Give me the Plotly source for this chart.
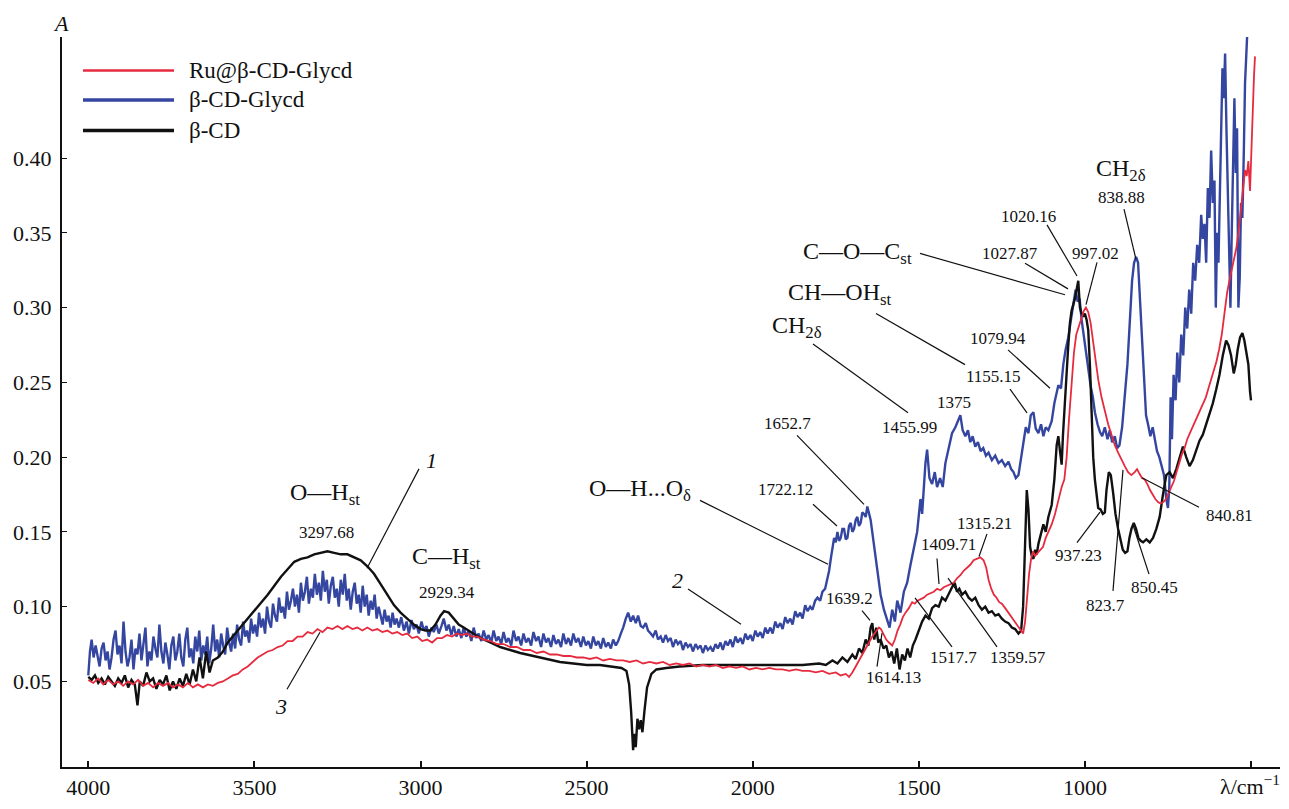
import plotly.graph_objects as go

# ---------------- data (wavenumber cm^-1, absorbance) ----------------
series_names = ["Ru@β-CD-Glycd", "β-CD-Glycd", "β-CD"]

blue_points = [
    (4000, 0.054), (3995, 0.070), (3990, 0.078), (3984, 0.066), (3978, 0.074), (3972, 0.068),
    (3966, 0.060), (3960, 0.072), (3954, 0.076), (3948, 0.064), (3942, 0.070), (3936, 0.058),
    (3930, 0.066), (3924, 0.078), (3918, 0.084), (3912, 0.068), (3906, 0.074), (3900, 0.062),
    (3894, 0.090), (3888, 0.070), (3882, 0.060), (3876, 0.066), (3870, 0.078), (3864, 0.058),
    (3858, 0.072), (3852, 0.068), (3846, 0.082), (3840, 0.064), (3834, 0.074), (3828, 0.086),
    (3822, 0.060), (3816, 0.070), (3810, 0.064), (3804, 0.080), (3798, 0.072), (3792, 0.066),
    (3786, 0.088), (3780, 0.070), (3774, 0.062), (3768, 0.076), (3762, 0.068), (3756, 0.058),
    (3750, 0.074), (3744, 0.080), (3738, 0.064), (3732, 0.070), (3726, 0.082), (3720, 0.066),
    (3714, 0.060), (3708, 0.078), (3702, 0.086), (3696, 0.066), (3690, 0.072), (3684, 0.062),
    (3678, 0.080), (3672, 0.070), (3666, 0.084), (3660, 0.064), (3654, 0.074), (3648, 0.068),
    (3642, 0.080), (3636, 0.062), (3630, 0.072), (3624, 0.088), (3618, 0.070), (3612, 0.078),
    (3606, 0.066), (3600, 0.082), (3594, 0.074), (3588, 0.068), (3582, 0.086), (3576, 0.076),
    (3570, 0.070), (3564, 0.082), (3558, 0.072), (3552, 0.088), (3546, 0.078), (3540, 0.074),
    (3534, 0.090), (3528, 0.080), (3522, 0.084), (3516, 0.076), (3510, 0.092), (3504, 0.082),
    (3498, 0.088), (3492, 0.080), (3486, 0.096), (3480, 0.086), (3474, 0.092), (3468, 0.082),
    (3462, 0.100), (3456, 0.090), (3450, 0.086), (3444, 0.102), (3438, 0.094), (3432, 0.090),
    (3426, 0.106), (3420, 0.096), (3414, 0.100), (3408, 0.092), (3402, 0.110), (3396, 0.098),
    (3390, 0.104), (3384, 0.112), (3378, 0.100), (3372, 0.108), (3366, 0.096), (3360, 0.116),
    (3354, 0.104), (3348, 0.110), (3342, 0.120), (3336, 0.102), (3330, 0.112), (3324, 0.106),
    (3318, 0.122), (3312, 0.108), (3306, 0.116), (3300, 0.104), (3294, 0.124), (3288, 0.110),
    (3282, 0.118), (3276, 0.102), (3270, 0.114), (3264, 0.120), (3258, 0.106), (3252, 0.112),
    (3246, 0.100), (3240, 0.118), (3234, 0.108), (3228, 0.122), (3222, 0.104), (3216, 0.112),
    (3210, 0.098), (3204, 0.110), (3198, 0.116), (3192, 0.102), (3186, 0.108), (3180, 0.096),
    (3174, 0.114), (3168, 0.100), (3162, 0.108), (3156, 0.094), (3150, 0.104), (3144, 0.098),
    (3138, 0.108), (3132, 0.092), (3126, 0.100), (3120, 0.094), (3114, 0.088), (3108, 0.098),
    (3102, 0.090), (3096, 0.094), (3090, 0.086), (3084, 0.096), (3078, 0.088), (3072, 0.092),
    (3065, 0.086), (3058, 0.093), (3050, 0.084), (3042, 0.090), (3035, 0.082), (3027, 0.091),
    (3020, 0.085), (3012, 0.088), (3005, 0.082), (2997, 0.090), (2990, 0.084), (2982, 0.087),
    (2975, 0.080), (2967, 0.086), (2960, 0.083), (2952, 0.088), (2945, 0.082), (2937, 0.087),
    (2930, 0.092), (2922, 0.084), (2915, 0.088), (2907, 0.081), (2900, 0.087), (2892, 0.080),
    (2885, 0.085), (2877, 0.079), (2870, 0.086), (2862, 0.080), (2855, 0.084), (2847, 0.077),
    (2840, 0.086), (2832, 0.079), (2825, 0.082), (2817, 0.077), (2810, 0.084), (2802, 0.078),
    (2795, 0.081), (2787, 0.076), (2780, 0.084), (2772, 0.077), (2765, 0.080), (2757, 0.075),
    (2750, 0.083), (2742, 0.076), (2735, 0.079), (2727, 0.074), (2720, 0.084), (2712, 0.077),
    (2705, 0.080), (2697, 0.074), (2690, 0.082), (2682, 0.076), (2675, 0.079), (2667, 0.074),
    (2660, 0.083), (2652, 0.077), (2645, 0.080), (2637, 0.073), (2630, 0.082), (2622, 0.076),
    (2615, 0.079), (2607, 0.073), (2600, 0.081), (2592, 0.075), (2585, 0.078), (2577, 0.073),
    (2570, 0.082), (2562, 0.075), (2555, 0.079), (2547, 0.074), (2540, 0.082), (2532, 0.076),
    (2525, 0.079), (2517, 0.073), (2510, 0.080), (2502, 0.074), (2495, 0.077), (2487, 0.072),
    (2480, 0.080), (2472, 0.074), (2465, 0.077), (2457, 0.072), (2450, 0.079), (2442, 0.073),
    (2435, 0.076), (2427, 0.072), (2420, 0.078), (2412, 0.074), (2405, 0.077), (2397, 0.082),
    (2390, 0.086), (2382, 0.092), (2375, 0.096), (2367, 0.090), (2360, 0.094), (2352, 0.089),
    (2345, 0.094), (2337, 0.087), (2330, 0.086), (2322, 0.089), (2315, 0.084), (2307, 0.082),
    (2300, 0.080), (2292, 0.084), (2285, 0.078), (2277, 0.080), (2270, 0.076), (2262, 0.081),
    (2255, 0.077), (2247, 0.079), (2240, 0.073), (2232, 0.078), (2225, 0.075), (2217, 0.077),
    (2210, 0.071), (2202, 0.076), (2195, 0.073), (2187, 0.075), (2180, 0.070), (2172, 0.075),
    (2165, 0.072), (2157, 0.074), (2150, 0.069), (2142, 0.074), (2135, 0.071), (2127, 0.073),
    (2120, 0.070), (2112, 0.075), (2105, 0.072), (2097, 0.076), (2090, 0.071), (2082, 0.077),
    (2075, 0.074), (2067, 0.078), (2060, 0.073), (2052, 0.080), (2045, 0.076), (2037, 0.079),
    (2030, 0.075), (2022, 0.082), (2015, 0.078), (2007, 0.081), (2000, 0.077), (1992, 0.084),
    (1985, 0.080), (1977, 0.083), (1970, 0.079), (1962, 0.086), (1955, 0.082), (1947, 0.086),
    (1940, 0.082), (1932, 0.090), (1925, 0.086), (1917, 0.089), (1910, 0.085), (1902, 0.093),
    (1895, 0.089), (1887, 0.092), (1880, 0.088), (1872, 0.097), (1865, 0.093), (1857, 0.096),
    (1850, 0.092), (1842, 0.101), (1835, 0.097), (1827, 0.100), (1820, 0.098), (1812, 0.104),
    (1805, 0.106), (1797, 0.104), (1790, 0.110), (1782, 0.112), (1775, 0.118), (1770, 0.124),
    (1765, 0.132), (1760, 0.140), (1755, 0.146), (1750, 0.143), (1745, 0.150), (1740, 0.144),
    (1735, 0.146), (1730, 0.152), (1725, 0.152), (1720, 0.145), (1715, 0.146), (1710, 0.154),
    (1705, 0.156), (1700, 0.150), (1695, 0.152), (1690, 0.158), (1685, 0.160), (1680, 0.154),
    (1675, 0.156), (1670, 0.163), (1665, 0.162), (1660, 0.160), (1655, 0.167),
    (1645, 0.158), (1635, 0.140), (1625, 0.122), (1615, 0.108), (1605, 0.098), (1595, 0.090),
    (1588, 0.086), (1580, 0.098), (1572, 0.090), (1565, 0.104), (1555, 0.096), (1545, 0.110),
    (1535, 0.116), (1525, 0.128), (1515, 0.140), (1505, 0.150), (1495, 0.172), (1490, 0.162),
    (1480, 0.196), (1475, 0.205), (1468, 0.186), (1460, 0.182), (1452, 0.190), (1445, 0.180),
    (1436, 0.186), (1428, 0.180), (1420, 0.196), (1410, 0.206), (1400, 0.216), (1390, 0.220),
    (1380, 0.226), (1375, 0.228), (1368, 0.218), (1360, 0.214), (1352, 0.218), (1345, 0.210),
    (1338, 0.214), (1330, 0.207), (1322, 0.210), (1314, 0.204), (1306, 0.206), (1298, 0.201),
    (1290, 0.203), (1280, 0.198), (1270, 0.201), (1260, 0.196), (1250, 0.198), (1240, 0.194),
    (1230, 0.197), (1222, 0.192), (1215, 0.190), (1208, 0.186), (1200, 0.188), (1192, 0.200),
    (1185, 0.212), (1178, 0.220), (1170, 0.216), (1163, 0.228), (1155, 0.230), (1148, 0.219),
    (1140, 0.216), (1132, 0.222), (1125, 0.214), (1118, 0.220), (1110, 0.218), (1100, 0.224),
    (1092, 0.236), (1085, 0.244), (1080, 0.248), (1072, 0.246), (1065, 0.262), (1058, 0.272),
    (1050, 0.280), (1042, 0.292), (1035, 0.302), (1028, 0.312), (1022, 0.304), (1016, 0.306),
    (1010, 0.292), (1003, 0.280), (996, 0.270), (990, 0.258), (983, 0.248), (976, 0.240),
    (970, 0.230), (962, 0.222), (955, 0.217), (948, 0.214), (940, 0.220), (932, 0.212),
    (925, 0.218), (918, 0.210), (910, 0.214), (903, 0.206), (896, 0.208), (888, 0.220),
    (880, 0.240), (872, 0.262), (865, 0.290), (858, 0.318), (852, 0.330), (846, 0.334),
    (840, 0.330), (834, 0.305), (828, 0.272), (822, 0.246), (816, 0.228), (810, 0.222),
    (803, 0.214), (796, 0.220), (790, 0.212), (783, 0.204), (776, 0.200), (769, 0.194),
    (762, 0.188), (755, 0.172), (750, 0.166), (746, 0.180), (742, 0.240), (738, 0.212),
    (733, 0.255), (727, 0.238), (722, 0.270), (716, 0.250), (710, 0.282), (704, 0.268),
    (698, 0.300), (692, 0.286), (686, 0.312), (680, 0.296), (674, 0.330), (668, 0.318),
    (662, 0.342), (656, 0.330), (650, 0.362), (645, 0.346), (640, 0.356), (635, 0.330),
    (630, 0.380), (625, 0.360), (620, 0.405), (615, 0.370), (610, 0.385), (606, 0.300),
    (602, 0.350), (598, 0.330), (594, 0.370), (590, 0.410), (586, 0.460), (582, 0.440),
    (578, 0.470), (574, 0.420), (570, 0.380), (566, 0.330), (562, 0.300), (558, 0.350),
    (554, 0.405), (550, 0.440), (546, 0.390), (542, 0.420), (538, 0.300), (534, 0.320),
    (530, 0.370), (526, 0.360), (522, 0.400), (518, 0.450), (514, 0.470), (510, 0.490),
]

black_points = [
    (4000, 0.053), (3990, 0.051), (3980, 0.054), (3970, 0.049), (3960, 0.052), (3950, 0.048),
    (3940, 0.053), (3930, 0.050), (3920, 0.047), (3910, 0.052), (3900, 0.049), (3890, 0.054),
    (3880, 0.046), (3870, 0.051), (3860, 0.048), (3852, 0.034), (3845, 0.050), (3835, 0.047),
    (3825, 0.056), (3815, 0.050), (3805, 0.052), (3795, 0.045), (3785, 0.051), (3775, 0.048),
    (3765, 0.054), (3755, 0.044), (3745, 0.050), (3735, 0.045), (3725, 0.052), (3715, 0.047),
    (3705, 0.055), (3695, 0.048), (3685, 0.058), (3675, 0.050), (3665, 0.066), (3655, 0.052),
    (3645, 0.070), (3635, 0.056), (3625, 0.064), (3610, 0.066), (3595, 0.070), (3580, 0.076),
    (3565, 0.080), (3550, 0.084), (3535, 0.088), (3520, 0.092), (3500, 0.097), (3480, 0.102),
    (3460, 0.108), (3440, 0.114), (3420, 0.120), (3400, 0.125), (3380, 0.130), (3360, 0.132),
    (3340, 0.133), (3320, 0.135), (3300, 0.136), (3280, 0.137), (3260, 0.136), (3240, 0.135),
    (3220, 0.135), (3200, 0.133), (3180, 0.131), (3160, 0.127), (3140, 0.122), (3120, 0.115),
    (3100, 0.108), (3080, 0.101), (3060, 0.096), (3040, 0.092), (3020, 0.088), (3000, 0.085),
    (2985, 0.084), (2970, 0.084), (2955, 0.088), (2940, 0.094), (2929, 0.097), (2915, 0.096),
    (2900, 0.092), (2885, 0.088), (2870, 0.086), (2850, 0.083), (2820, 0.079), (2790, 0.076),
    (2760, 0.073), (2730, 0.071), (2700, 0.069), (2660, 0.067), (2620, 0.065), (2580, 0.063),
    (2540, 0.062), (2500, 0.061), (2460, 0.061), (2420, 0.060), (2395, 0.059), (2380, 0.057),
    (2372, 0.048), (2366, 0.030), (2360, 0.004), (2356, 0.015), (2352, 0.006), (2347, 0.025),
    (2342, 0.018), (2337, 0.024), (2332, 0.016), (2326, 0.030), (2318, 0.046), (2305, 0.055),
    (2290, 0.058), (2260, 0.059), (2220, 0.060), (2150, 0.061), (2100, 0.061), (2050, 0.061),
    (2000, 0.061), (1950, 0.061), (1900, 0.061), (1850, 0.061), (1800, 0.062), (1780, 0.061),
    (1760, 0.064), (1745, 0.062), (1730, 0.066), (1715, 0.063), (1700, 0.068), (1690, 0.065),
    (1680, 0.072), (1670, 0.069), (1660, 0.078), (1652, 0.074), (1645, 0.086), (1640, 0.089),
    (1634, 0.078), (1628, 0.086), (1622, 0.076), (1615, 0.078), (1606, 0.072), (1598, 0.074),
    (1590, 0.066), (1582, 0.070), (1574, 0.062), (1566, 0.072), (1558, 0.058), (1550, 0.068),
    (1542, 0.064), (1534, 0.072), (1526, 0.066), (1518, 0.074), (1510, 0.078), (1500, 0.084),
    (1490, 0.090), (1480, 0.094), (1470, 0.092), (1460, 0.099), (1450, 0.101), (1440, 0.100),
    (1430, 0.106), (1420, 0.104), (1410, 0.109), (1400, 0.113), (1392, 0.116), (1385, 0.110),
    (1378, 0.112), (1370, 0.108), (1360, 0.110), (1350, 0.106), (1340, 0.104), (1330, 0.106),
    (1320, 0.101), (1310, 0.098), (1300, 0.100), (1290, 0.096), (1280, 0.097), (1270, 0.094),
    (1260, 0.095), (1250, 0.092), (1240, 0.090), (1230, 0.089), (1220, 0.086), (1210, 0.085),
    (1200, 0.082), (1192, 0.084), (1186, 0.100), (1180, 0.150), (1175, 0.178), (1170, 0.165),
    (1165, 0.140), (1160, 0.134), (1155, 0.132), (1150, 0.138), (1145, 0.135), (1140, 0.142),
    (1132, 0.148), (1125, 0.155), (1118, 0.150), (1110, 0.160), (1100, 0.168), (1092, 0.185),
    (1085, 0.208), (1080, 0.214), (1075, 0.204), (1070, 0.195), (1066, 0.215), (1060, 0.240),
    (1055, 0.255), (1050, 0.275), (1045, 0.290), (1040, 0.298), (1035, 0.302), (1030, 0.306),
    (1025, 0.312), (1020, 0.318), (1015, 0.300), (1010, 0.296), (1005, 0.294), (1000, 0.296),
    (995, 0.292), (990, 0.285), (985, 0.262), (980, 0.230), (975, 0.200), (970, 0.185),
    (965, 0.175), (960, 0.166), (953, 0.165), (946, 0.162), (940, 0.163), (935, 0.178),
    (928, 0.190), (922, 0.188), (915, 0.176), (908, 0.162), (900, 0.152), (893, 0.144),
    (886, 0.138), (879, 0.136), (872, 0.137), (866, 0.146), (860, 0.152), (853, 0.156),
    (846, 0.152), (839, 0.146), (832, 0.144), (825, 0.143), (815, 0.145), (805, 0.143),
    (795, 0.146), (785, 0.152), (775, 0.160), (765, 0.175), (755, 0.188), (745, 0.190),
    (735, 0.186), (725, 0.192), (715, 0.200), (705, 0.207), (695, 0.200), (685, 0.194),
    (675, 0.198), (665, 0.205), (655, 0.211), (645, 0.215), (635, 0.222), (625, 0.229),
    (615, 0.236), (605, 0.245), (595, 0.255), (585, 0.268), (575, 0.278), (568, 0.275),
    (560, 0.268), (552, 0.256), (546, 0.262), (540, 0.272), (533, 0.280), (526, 0.283),
    (520, 0.278), (514, 0.270), (508, 0.262), (503, 0.244), (500, 0.238),
]

red_points = [
    (4000, 0.051), (3985, 0.049), (3970, 0.052), (3955, 0.048), (3940, 0.051), (3925, 0.048),
    (3910, 0.050), (3895, 0.047), (3880, 0.050), (3865, 0.048), (3850, 0.051), (3835, 0.047),
    (3820, 0.049), (3805, 0.046), (3790, 0.049), (3775, 0.047), (3760, 0.049), (3745, 0.046),
    (3730, 0.048), (3715, 0.046), (3700, 0.049), (3685, 0.046), (3670, 0.048), (3655, 0.046),
    (3640, 0.048), (3625, 0.047), (3610, 0.049), (3595, 0.050), (3580, 0.052), (3565, 0.054),
    (3550, 0.055), (3535, 0.058), (3520, 0.060), (3505, 0.063), (3490, 0.066), (3475, 0.068),
    (3460, 0.070), (3445, 0.071), (3430, 0.073), (3415, 0.074), (3400, 0.077), (3385, 0.077),
    (3370, 0.080), (3355, 0.080), (3340, 0.083), (3325, 0.082), (3310, 0.085), (3295, 0.083),
    (3280, 0.086), (3265, 0.085), (3250, 0.087), (3235, 0.085), (3220, 0.087), (3205, 0.085),
    (3190, 0.086), (3175, 0.084), (3160, 0.086), (3145, 0.084), (3130, 0.085), (3115, 0.083),
    (3100, 0.084), (3085, 0.082), (3070, 0.083), (3055, 0.081), (3040, 0.082), (3025, 0.079),
    (3010, 0.080), (2995, 0.077), (2980, 0.078), (2965, 0.076), (2950, 0.079), (2935, 0.079),
    (2920, 0.081), (2905, 0.080), (2890, 0.082), (2875, 0.081), (2860, 0.082), (2845, 0.080),
    (2830, 0.080), (2810, 0.078), (2790, 0.077), (2770, 0.075), (2750, 0.075), (2730, 0.073),
    (2710, 0.073), (2690, 0.071), (2670, 0.071), (2650, 0.069), (2630, 0.070), (2610, 0.068),
    (2590, 0.068), (2570, 0.067), (2550, 0.067), (2530, 0.066), (2510, 0.066), (2490, 0.065),
    (2470, 0.066), (2450, 0.064), (2430, 0.065), (2410, 0.064), (2390, 0.064), (2370, 0.063),
    (2350, 0.064), (2330, 0.062), (2310, 0.063), (2290, 0.062), (2270, 0.063), (2250, 0.061),
    (2230, 0.062), (2210, 0.061), (2190, 0.062), (2170, 0.060), (2150, 0.061), (2130, 0.060),
    (2110, 0.061), (2090, 0.059), (2070, 0.060), (2050, 0.059), (2030, 0.060), (2010, 0.058),
    (1990, 0.059), (1970, 0.058), (1950, 0.059), (1930, 0.058), (1910, 0.058), (1890, 0.057),
    (1870, 0.058), (1850, 0.057), (1830, 0.057), (1810, 0.056), (1790, 0.057), (1770, 0.055),
    (1750, 0.056), (1735, 0.054), (1720, 0.055), (1710, 0.053), (1700, 0.056), (1690, 0.060),
    (1680, 0.064), (1670, 0.069), (1660, 0.072), (1650, 0.076), (1640, 0.080), (1630, 0.083),
    (1620, 0.086), (1614, 0.085), (1606, 0.081), (1598, 0.078), (1590, 0.076), (1580, 0.074),
    (1572, 0.078), (1564, 0.084), (1556, 0.088), (1548, 0.093), (1540, 0.096), (1530, 0.099),
    (1520, 0.103), (1512, 0.102), (1504, 0.104), (1495, 0.105), (1485, 0.106), (1475, 0.108),
    (1465, 0.109), (1455, 0.110), (1445, 0.112), (1435, 0.111), (1425, 0.113), (1415, 0.114),
    (1405, 0.115), (1395, 0.116), (1385, 0.119), (1375, 0.121), (1365, 0.124), (1355, 0.126),
    (1345, 0.128), (1335, 0.131), (1325, 0.132), (1315, 0.133), (1305, 0.131), (1297, 0.126),
    (1290, 0.118), (1282, 0.112), (1274, 0.108), (1266, 0.106), (1258, 0.103), (1250, 0.102),
    (1240, 0.099), (1230, 0.096), (1220, 0.093), (1210, 0.090), (1200, 0.087), (1192, 0.084),
    (1186, 0.082), (1180, 0.090), (1174, 0.108), (1168, 0.122), (1162, 0.132), (1156, 0.137),
    (1150, 0.134), (1142, 0.136), (1134, 0.138), (1126, 0.140), (1118, 0.146), (1110, 0.150),
    (1100, 0.155), (1090, 0.162), (1080, 0.172), (1070, 0.180), (1062, 0.185), (1055, 0.200),
    (1048, 0.225), (1040, 0.250), (1033, 0.270), (1026, 0.282), (1018, 0.288), (1010, 0.294),
    (1003, 0.298), (997, 0.300), (990, 0.297), (983, 0.290), (976, 0.278), (968, 0.265),
    (960, 0.252), (950, 0.240), (940, 0.230), (930, 0.222), (920, 0.215), (910, 0.208),
    (900, 0.203), (890, 0.198), (880, 0.194), (870, 0.190), (860, 0.188), (850, 0.190),
    (843, 0.192), (836, 0.189), (828, 0.186), (820, 0.185), (812, 0.182), (804, 0.178),
    (796, 0.175), (788, 0.172), (780, 0.170), (772, 0.169), (764, 0.170), (756, 0.172),
    (748, 0.176), (740, 0.180), (732, 0.184), (724, 0.190), (716, 0.196), (708, 0.202),
    (700, 0.206), (692, 0.212), (684, 0.216), (676, 0.220), (668, 0.224), (660, 0.228),
    (652, 0.232), (644, 0.236), (636, 0.240), (628, 0.246), (620, 0.252), (612, 0.258),
    (604, 0.264), (596, 0.272), (588, 0.282), (580, 0.296), (572, 0.310), (565, 0.318),
    (558, 0.326), (551, 0.334), (544, 0.340), (537, 0.352), (530, 0.366), (524, 0.380),
    (518, 0.392), (513, 0.388), (508, 0.398), (503, 0.378), (499, 0.408), (495, 0.430),
    (491, 0.455), (488, 0.468),
]

x_tick_values = [4000, 3500, 3000, 2500, 2000, 1500, 1000, 500]
x_tick_labels = ["4000", "3500", "3000", "2500", "2000", "1500", "1000", ""]
y_tick_values = [0.05, 0.10, 0.15, 0.20, 0.25, 0.30, 0.35, 0.40]
y_tick_labels = ["0.05", "0.10", "0.15", "0.20", "0.25", "0.30", "0.35", "0.40"]

# ---------------- layout helpers ----------------
W, H = 1289, 809
L, R, T, B = 62, 1280, 37, 779


def P(px, py):
    """Convert a reference pixel location to data coordinates."""
    return 4000 - (px - 88.3) * 3.0102, 0.05 + (692 - py) * 0.000658


def PP(px, py):
    """Convert a reference pixel location to paper coordinates."""
    return (px - L) / (R - L), (B - py) / (B - T)


XR = [P(L, 0)[0], P(R, 0)[0]]
YR = [P(0, B)[1], P(0, T)[1]]

RED = "#e62b3f"
BLUE = "#3446a0"
BLACK = "#111111"
FONT = "Liberation Serif, Times New Roman, serif"


def split(points):
    return [p[0] for p in points], [p[1] for p in points]


fig = go.Figure()
for pts, color, width, name in [
    (blue_points, BLUE, 2.4, series_names[1]),
    (black_points, BLACK, 2.4, series_names[2]),
    (red_points, RED, 1.8, series_names[0]),
]:
    xs, ys = split(pts)
    fig.add_trace(go.Scatter(x=xs, y=ys, mode="lines", name=name,
                             line=dict(color=color, width=width), showlegend=False))

annotations = []
shapes = []

# manual legend
for (name, color, width, py) in [
    (series_names[0], RED, 2.5, 71),
    (series_names[1], BLUE, 3.5, 101),
    (series_names[2], BLACK, 3.5, 132),
]:
    x0, y0 = PP(83, py)
    x1, _ = PP(174, py)
    shapes.append(dict(type="line", xref="paper", yref="paper", x0=x0, x1=x1, y0=y0, y1=y0,
                       line=dict(color=color, width=width)))
    tx, ty = PP(187, py)
    annotations.append(dict(x=tx, y=ty, xref="paper", yref="paper", text=name, showarrow=False,
                            xanchor="left", yanchor="middle",
                            font=dict(family=FONT, size=23, color="#111")))

# text labels: (text, px, py, size)
labels = [
    ("<i>1</i>", 431, 467, 22), ("<i>3</i>", 281, 718, 22), ("<i>2</i>", 677, 589, 22),
    ("O—H<sub>st</sub>", 325, 502, 24), ("3297.68", 326, 541, 17),
    ("C—H<sub>st</sub>", 446, 567, 24), ("2929.34", 447, 602, 17),
    ("O—H...O<sub>δ</sub>", 640, 497, 24), ("1722.12", 785, 497, 17),
    ("1652.7", 787, 430, 17), ("CH<sub>2δ</sub>", 797, 332, 24),
    ("1455.99", 909, 434, 17), ("1375", 954, 409, 17),
    ("CH—OH<sub>st</sub>", 840, 298, 24), ("1155.15", 993, 382, 17),
    ("1079.94", 998, 343, 17), ("C—O—C<sub>st</sub>", 857, 257, 24),
    ("1027.87", 1010, 257, 17), ("1020.16", 1028, 219, 17), ("997.02", 1095, 257, 17),
    ("CH<sub>2δ</sub>", 1121, 172, 24), ("838.88", 1121, 200, 17),
    ("1639.2", 849, 608, 17), ("1614.13", 893, 688, 17), ("1409.71", 948, 553, 17),
    ("1315.21", 984, 532, 17), ("1517.7", 953, 668, 17), ("1359.57", 1018, 668, 17),
    ("937.23", 1078, 564, 17), ("823.7", 1105, 615, 17), ("850.45", 1154, 597, 17),
    ("840.81", 1229, 523, 17),
]
for text, px, py, size in labels:
    x, y = P(px, py)
    annotations.append(dict(x=x, y=y, xref="x", yref="y", text=text, showarrow=False,
                            xanchor="center", yanchor="middle",
                            font=dict(family=FONT, size=size, color="#111")))

# leader lines (pixel endpoints)
leaders = [
    (419, 476, 367, 577), (287, 700, 320, 642), (688, 598, 741, 634),
    (700, 508, 828, 573), (813, 512, 837, 534), (797, 442, 864, 512),
    (813, 349, 908, 419), (876, 318, 965, 370), (1010, 395, 1027, 419),
    (1008, 355, 1050, 394), (920, 257, 1065, 299), (1025, 267, 1068, 293),
    (1047, 228, 1077, 280), (1097, 266, 1086, 309), (1124, 212, 1136, 263),
    (862, 620, 870, 630), (877, 677, 882, 643), (937, 567, 939, 593),
    (987, 542, 979, 565), (952, 657, 915, 607), (997, 657, 948, 587),
    (1077, 551, 1100, 520), (1113, 600, 1123, 477), (1149, 583, 1133, 533),
    (1199, 515, 1142, 485),
]
for ax0, ay0, ax1, ay1 in leaders:
    x0, y0 = P(ax0, ay0)
    x1, y1 = P(ax1, ay1)
    shapes.append(dict(type="line", xref="x", yref="y", x0=x0, y0=y0, x1=x1, y1=y1,
                       line=dict(color="#111", width=1.2)))

# axis titles (paper coordinates so they are not hidden outside the axis range)
ax_, ay_ = PP(61, 23)
annotations.append(dict(x=ax_, y=ay_, xref="paper", yref="paper", text="<i>A</i>",
                        showarrow=False, xanchor="center", yanchor="middle",
                        font=dict(family=FONT, size=22, color="#111")))
lx, ly = PP(1250, 797)
annotations.append(dict(x=lx, y=ly, xref="paper", yref="paper", text="λ/cm<sup>−1</sup>",
                        showarrow=False, xanchor="center", yanchor="middle",
                        font=dict(family=FONT, size=22, color="#111")))

fig.update_layout(
    width=W, height=H, autosize=False,
    margin=dict(l=L, r=W - R, t=T, b=H - B, pad=0),
    paper_bgcolor="white", plot_bgcolor="white",
    font=dict(family=FONT, size=22, color="#111"),
    annotations=annotations, shapes=shapes,
    xaxis=dict(range=XR, tickvals=x_tick_values, ticktext=x_tick_labels,
               showgrid=False, zeroline=False, showline=True, linecolor="#111", linewidth=2,
               ticks="inside", ticklen=6, tickwidth=1.5, tickcolor="#111",
               tickfont=dict(family=FONT, size=22, color="#111")),
    yaxis=dict(range=YR, tickvals=y_tick_values, ticktext=y_tick_labels,
               showgrid=False, zeroline=False, showline=True, linecolor="#111", linewidth=2,
               ticks="inside", ticklen=5, tickwidth=1.2, tickcolor="#111",
               ticklabelstandoff=4,
               tickfont=dict(family=FONT, size=22, color="#111")),
)

fig.write_html("out.html")
